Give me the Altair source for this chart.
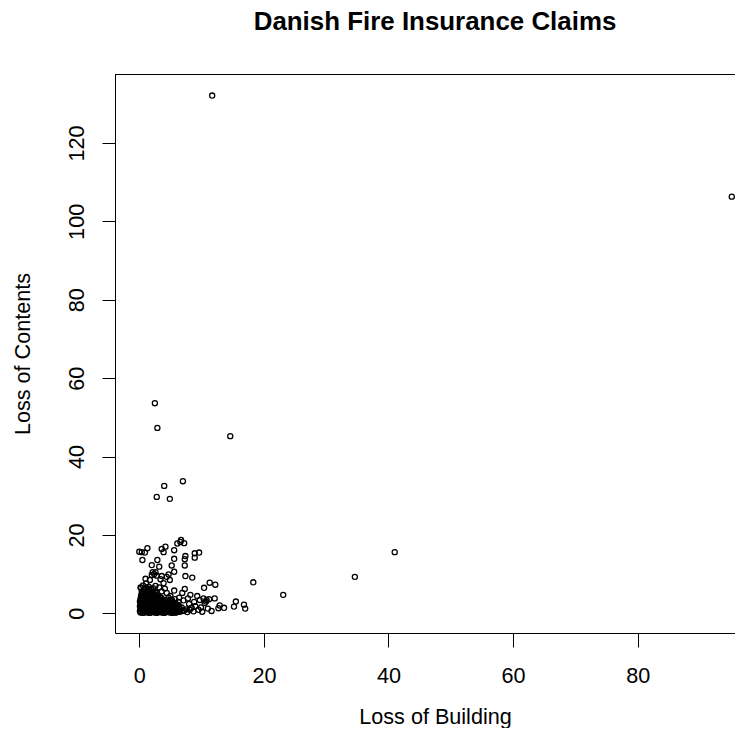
import altair as alt
import pandas as pd

# --- isolated large claims (Building, Contents) ---
outlier_building = [11.7, 95.1, 2.5, 2.9, 14.6, 7.0, 4.0, 2.8, 4.9, 41.0, 34.6, 23.1, 18.3]
outlier_contents = [132.1, 106.3, 53.6, 47.3, 45.2, 33.7, 32.5, 29.7, 29.2, 15.6, 9.3, 4.7, 7.9]

# --- scattered moderate claims ---
mid_building = [0.0, 0.4, 0.9, 1.3, 0.5, 3.6, 3.9, 4.2, 6.7, 6.6, 7.2, 6.1, 5.6, 8.9, 9.6, 8.9,
                7.4, 7.3, 5.6, 2.9, 5.2, 7.3, 2.0, 3.2, 5.6, 2.15, 2.4, 2.6, 2.0, 2.8, 4.7, 4.4,
                4.9, 3.6, 3.4, 3.9, 7.4, 8.5, 1.0, 1.7, 11.3, 12.2, 10.4, 7.3, 5.6, 9.3, 10.3, 10.8,
                11.2, 12.1, 9.7, 10.5, 10.7, 12.7, 15.5, 15.2, 16.8, 17.0,
                6.2, 6.8, 7.5, 8.0, 8.4, 7.1, 6.4, 7.8, 8.8, 6.0, 5.8, 6.5, 7.2, 8.1, 5.7, 6.9,
                8.2, 9.0, 9.5,
                0.6, 1.5, 0.3, 2.6, 3.2, 4.1, 1.1, 2.2, 3.6, 4.4, 5.0, 5.3, 5.5, 4.8, 6.3, 5.9,
                6.6, 7.7, 8.7, 9.9, 11.0, 11.6, 12.9, 13.6, 10.1,
                5.7, 6.2, 5.9, 6.4, 6.9, 5.4, 5.2, 5.8, 0.2, 1.0, 1.6,
                5.4, 5.8, 6.2, 5.6, 6.0, 5.3, 5.7, 6.1, 5.5, 4.6, 5.0, 4.7, 5.2]
mid_contents = [15.7, 15.6, 15.5, 16.6, 13.6, 16.4, 15.6, 17.0, 18.7, 18.2, 17.9, 17.8, 16.1, 15.3, 15.5, 14.2,
                14.6, 13.8, 13.9, 13.6, 12.2, 12.2, 12.3, 11.9, 10.6, 10.5, 10.0, 10.5, 9.8, 9.6, 9.9, 9.3,
                8.5, 9.5, 8.7, 7.7, 9.5, 9.1, 8.8, 8.5, 7.8, 7.3, 6.5, 6.2, 5.8, 4.4, 3.8, 3.4,
                3.6, 3.8, 3.4, 2.6, 3.0, 1.3, 3.0, 1.7, 2.2, 1.2,
                2.1, 1.5, 1.0, 2.4, 1.4, 3.3, 4.0, 3.8, 2.9, 0.8, 2.6, 0.4, 0.7, 0.9, 3.6, 5.2,
                4.7, 1.8, 0.9,
                7.1, 6.8, 6.5, 7.0, 6.6, 6.3, 7.6, 6.4, 5.6, 5.2, 4.4, 3.2, 1.6, 2.3, 2.9, 0.2,
                1.0, 0.3, 0.5, 1.5, 1.2, 0.6, 2.0, 1.4, 0.4,
                0.4, 0.9, 1.3, 1.7, 0.6, 2.0, 0.8, 0.6, 6.6, 6.3, 6.2,
                0.3, 0.2, 0.5, 1.1, 1.4, 1.7, 2.2, 2.0, 2.6, 3.1, 3.5, 4.0, 3.0]

# --- the dense mass of small claims near the origin ---
cluster_building = [
    0.2, 0.6, 1.0, 1.3, 1.7, 2.1, 2.5, 2.8, 3.2, 3.6, 4.0, 4.4, 4.9, 5.3,
    0.1, 0.5, 0.9, 1.2, 1.6, 2.0, 2.4, 2.9, 3.3, 3.7, 4.1, 4.6, 5.0,
    0.3, 0.7, 1.1, 1.5, 1.9, 2.3, 2.7, 3.1, 3.5, 3.9, 4.3, 4.8, 5.6,
    0.2, 0.6, 1.0, 1.4, 1.8, 2.2, 2.6, 3.0, 3.4, 3.8, 4.2, 4.7,
    0.1, 0.5, 0.9, 1.3, 1.7, 2.1, 2.5, 2.9, 3.3, 3.7, 4.1, 4.5, 5.1,
    0.3, 0.7, 1.1, 1.5, 1.9, 2.3, 2.7, 3.1, 3.6, 4.0, 4.4,
    0.2, 0.6, 1.0, 1.4, 1.8, 2.2, 2.6, 3.0, 3.4, 3.9, 4.3, 4.9,
    0.1, 0.5, 0.9, 1.3, 1.7, 2.1, 2.5, 2.9, 3.3, 3.8, 4.2,
    0.3, 0.7, 1.1, 1.5, 1.9, 2.3, 2.8, 3.2, 3.7, 4.1,
    0.2, 0.6, 1.0, 1.4, 1.8, 2.2, 2.7, 3.1, 3.5,
    0.4, 0.8, 1.2, 1.6, 2.0, 2.5, 2.9, 3.4,
    0.3, 0.7, 1.1, 1.5, 1.9, 2.4, 3.0,
    0.5, 0.9, 1.3, 1.8, 2.3, 2.8,
    0.4, 1.0, 1.5, 2.0, 2.6,
    0.7, 1.3, 1.9,
]
cluster_contents = [
    0.2, 0.1, 0.3, 0.2, 0.1, 0.3, 0.2, 0.1, 0.3, 0.2, 0.1, 0.3, 0.2, 0.1,
    0.6, 0.5, 0.7, 0.6, 0.5, 0.7, 0.6, 0.5, 0.7, 0.6, 0.5, 0.7, 0.6,
    1.0, 0.9, 1.1, 1.0, 0.9, 1.1, 1.0, 0.9, 1.1, 1.0, 0.9, 1.1, 1.0,
    1.4, 1.3, 1.5, 1.4, 1.3, 1.5, 1.4, 1.3, 1.5, 1.4, 1.3, 1.5,
    1.8, 1.7, 1.9, 1.8, 1.7, 1.9, 1.8, 1.7, 1.9, 1.8, 1.7, 1.9, 1.8,
    2.2, 2.1, 2.3, 2.2, 2.1, 2.3, 2.2, 2.1, 2.3, 2.2, 2.1,
    2.6, 2.5, 2.7, 2.6, 2.5, 2.7, 2.6, 2.5, 2.7, 2.6, 2.5, 2.7,
    3.0, 2.9, 3.1, 3.0, 2.9, 3.1, 3.0, 2.9, 3.1, 3.0, 2.9,
    3.4, 3.3, 3.5, 3.4, 3.3, 3.5, 3.4, 3.3, 3.5, 3.4,
    3.8, 3.7, 3.9, 3.8, 3.7, 3.9, 3.8, 3.7, 3.9,
    4.2, 4.1, 4.3, 4.2, 4.1, 4.3, 4.2, 4.1,
    4.6, 4.5, 4.7, 4.6, 4.5, 4.7, 4.6,
    5.0, 4.9, 5.1, 5.0, 4.9, 5.1,
    5.5, 5.4, 5.6, 5.5, 5.4,
    6.0, 5.9, 6.1,
]

x_ticks = [0, 20, 40, 60, 80]
y_ticks = [0, 20, 40, 60, 80, 100, 120]

df = pd.DataFrame({
    "building": outlier_building + mid_building + cluster_building,
    "contents": outlier_contents + mid_contents + cluster_contents,
})

W, H = 620, 559
FONT = "Liberation Sans"
FS = 21.6

x_axis = alt.Axis(
    values=x_ticks, grid=False, tickSize=14, tickColor="black", tickWidth=1,
    domainColor="black", domainWidth=1, labelFont=FONT, labelFontSize=FS,
    labelColor="black", labelPadding=35, labelBaseline="alphabetic", labelAlign="center",
    labelFlush=False, labelOverlap=False,
    title="Loss of Building", titleFont=FONT, titleFontSize=FS, titleFontWeight="normal",
    titleColor="black", titleX=320, titleY=90, titleAlign="center",
    titleBaseline="alphabetic", titleAngle=0,
)
y_axis = alt.Axis(
    values=y_ticks, grid=False, tickSize=13, tickColor="black", tickWidth=1,
    domainColor="black", domainWidth=1, labelFont=FONT, labelFontSize=FS,
    labelColor="black", labelPadding=19, labelAngle=270, labelAlign="center",
    labelBaseline="alphabetic", labelFlush=False, labelOverlap=False,
    title="Loss of Contents", titleFont=FONT, titleFontSize=FS, titleFontWeight="normal",
    titleColor="black", titleX=-85.5, titleY=279.5, titleAngle=270, titleAlign="center",
    titleBaseline="alphabetic",
)

points = alt.Chart(df).mark_point(
    shape="circle", filled=False, size=26, strokeWidth=1.3, color="black", opacity=1
).encode(
    x=alt.X("building:Q", scale=alt.Scale(domain=[-3.9, 95.62], nice=False, zero=False), axis=x_axis),
    y=alt.Y("contents:Q", scale=alt.Scale(domain=[-5.03, 137.6], nice=False, zero=False), axis=y_axis),
)

top_border = alt.Chart(pd.DataFrame({"v": [0]})).mark_rule(color="black", strokeWidth=1).encode(
    x=alt.value(0), x2=alt.value(W), y=alt.value(0.5)
)

chart = alt.layer(points, top_border).properties(
    width=W, height=H,
    title=alt.TitleParams(
        text="Danish Fire Insurance Claims", font=FONT, fontSize=25.9, fontWeight="bold",
        color="black", anchor="middle", frame="group", offset=18, baseline="alphabetic", dx=10,
    ),
    autosize=alt.AutoSizeParams(type="none"),
    padding={"left": 107, "top": 66, "right": 0, "bottom": 95},
).configure_view(stroke=None)

chart.save("out.html", embed_options={"renderer": "svg", "actions": False})
